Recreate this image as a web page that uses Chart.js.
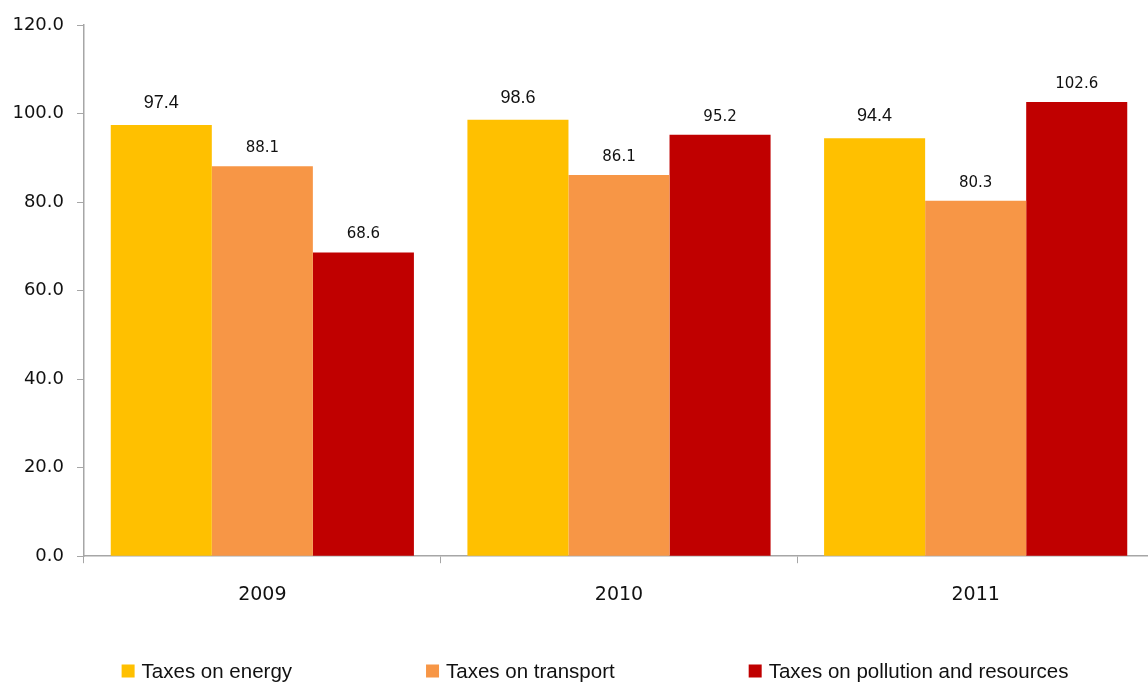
<!DOCTYPE html>
<html>
<head>
<meta charset="utf-8">
<title>Environmental taxes</title>
<script src="https://cdn.jsdelivr.net/npm/chart.js@4/dist/chart.umd.min.js"></script>
<style>
  html, body { margin: 0; padding: 0; background: #ffffff; overflow: hidden; }
  #wrap { width: 1190px; height: 682px; }
</style>
</head>
<body>
<div id="wrap"><canvas id="chart" width="1190" height="682"></canvas></div>
<script>
// Categories and series values
const years = ['2009', '2010', '2011'];
const seriesNames = ['Taxes on energy', 'Taxes on transport', 'Taxes on pollution and resources'];
const energy = [97.4, 98.6, 94.4];
const transport = [88.1, 86.1, 80.3];
const pollution = [68.6, 95.2, 102.6];
const yTicks = [0, 20, 40, 60, 80, 100, 120];

const colours = ['#FFC000', '#F79646', '#C00000'];
const axisColour = '#a6a6a6';
const textColour = '#111111';

// Value labels drawn above each bar
const valueLabels = {
  id: 'valueLabels',
  afterDatasetsDraw(chart, args, opts) {
    const ctx = chart.ctx;
    ctx.save();
    ctx.fillStyle = textColour;
    ctx.textAlign = 'center';
    ctx.textBaseline = 'middle';
    chart.data.datasets.forEach((ds, di) => {
      const meta = chart.getDatasetMeta(di);
      const style = opts.styles[di];
      ctx.font = style.font;
      meta.data.forEach((bar, i) => {
        ctx.fillText(ds.data[i].toFixed(1), bar.x, bar.y - style.gap);
      });
    });
    ctx.restore();
  }
};

// Legend row along the bottom with wide spacing between entries
const bottomLegend = {
  id: 'bottomLegend',
  afterDraw(chart, args, opts) {
    const ctx = chart.ctx;
    ctx.save();
    ctx.font = opts.font;
    ctx.textBaseline = 'middle';
    ctx.textAlign = 'left';
    const items = chart.data.datasets.map(ds => ({
      text: ds.label,
      colour: ds.backgroundColor,
      w: opts.box + opts.boxGap + ctx.measureText(ds.label).width
    }));
    const total = items.reduce((s, it) => s + it.w, 0) + opts.itemGap * (items.length - 1);
    let x = chart.width / 2 - total / 2;
    items.forEach(it => {
      ctx.fillStyle = it.colour;
      ctx.fillRect(x, opts.y - opts.box / 2, opts.box, opts.box);
      ctx.fillStyle = textColour;
      ctx.fillText(it.text, x + opts.box + opts.boxGap, opts.y + 1);
      x += it.w + opts.itemGap;
    });
    ctx.restore();
  }
};

const seriesValues = [energy, transport, pollution];

new Chart(document.getElementById('chart'), {
  type: 'bar',
  data: {
    labels: years,
    datasets: seriesNames.map((name, i) => ({
      label: name,
      data: seriesValues[i],
      backgroundColor: colours[i],
      borderWidth: 0,
      categoryPercentage: 0.85,
      barPercentage: 1.0
    }))
  },
  options: {
    responsive: false,
    animation: false,
    layout: { padding: { left: 0, right: 36, top: 25, bottom: 56 } },
    plugins: {
      legend: { display: false },
      tooltip: { enabled: false },
      valueLabels: {
        styles: [
          { font: '18px "Liberation Sans", Arial, sans-serif', gap: 22 },
          { font: '15px "DejaVu Sans", sans-serif', gap: 18 },
          { font: '15px "DejaVu Sans", sans-serif', gap: 18 }
        ]
      },
      bottomLegend: {
        font: '20.5px "Liberation Sans", Arial, sans-serif',
        y: 671,
        box: 13,
        boxGap: 7,
        itemGap: 134
      }
    },
    scales: {
      x: {
        offset: true,
        grid: {
          offset: true,
          drawOnChartArea: false,
          drawTicks: true,
          tickLength: 7,
          color: axisColour,
          lineWidth: 1
        },
        border: { display: true, color: axisColour, width: 1.5 },
        ticks: {
          color: textColour,
          padding: 20,
          font: { family: '"DejaVu Sans", sans-serif', size: 19 }
        }
      },
      y: {
        min: 0,
        max: 120,
        afterFit(scale) { scale.width = 84; },
        afterBuildTicks(scale) { scale.ticks = yTicks.map(v => ({ value: v })); },
        grid: {
          drawOnChartArea: false,
          drawTicks: true,
          tickLength: 7,
          color: axisColour,
          lineWidth: 1
        },
        border: { display: true, color: axisColour, width: 1.5 },
        ticks: {
          color: textColour,
          padding: 13,
          callback: v => Number(v).toFixed(1),
          font: { family: '"DejaVu Sans", sans-serif', size: 18 }
        }
      }
    }
  },
  plugins: [valueLabels, bottomLegend]
});
</script>
</body>
</html>
